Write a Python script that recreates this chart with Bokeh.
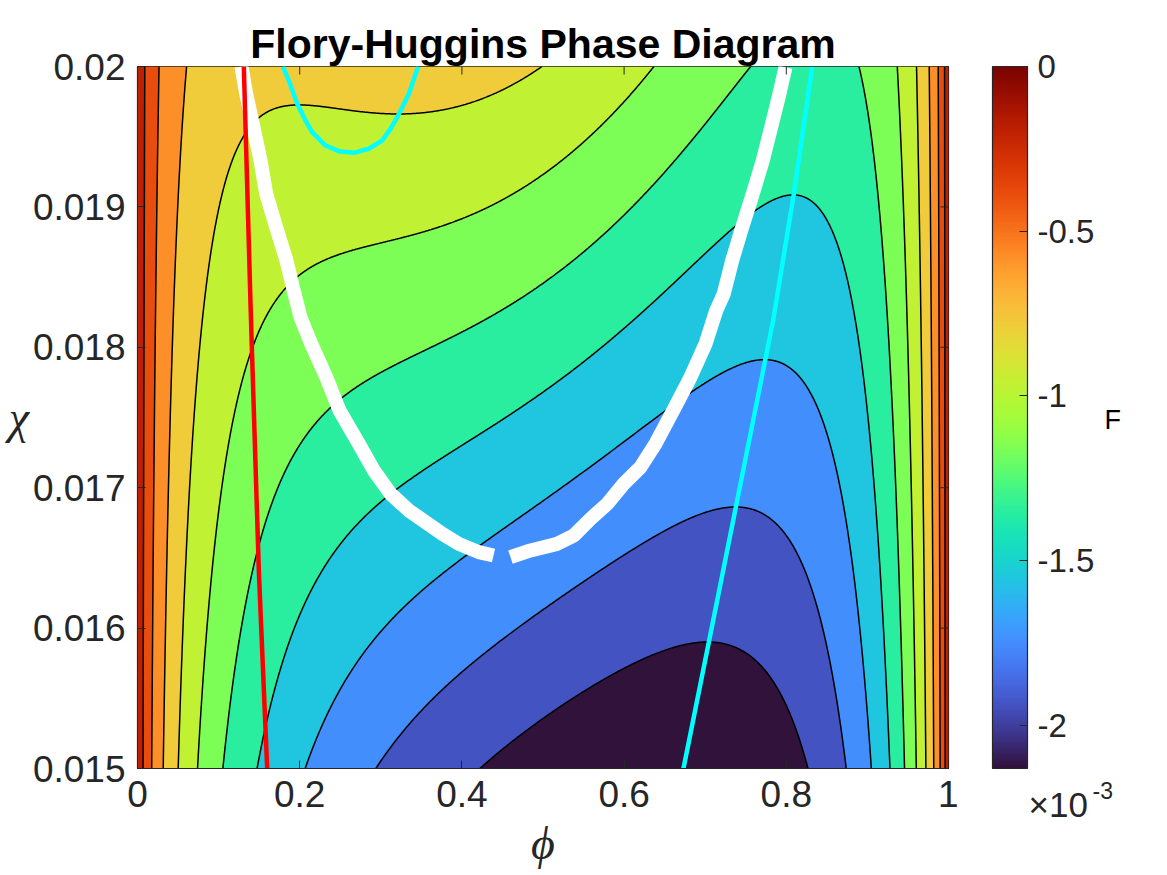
import numpy as np
from bokeh.plotting import figure
from bokeh.layouts import row
from bokeh.models import (LinearColorMapper, ColorBar, FixedTicker, Label, Range1d)
from bokeh.palettes import Turbo256
from bokeh.embed import file_html
from bokeh.resources import INLINE

# ---------------- data ----------------
# Flory-Huggins free energy F = phi/N_A ln(phi) + (1-phi)/N_B ln(1-phi) + chi phi (1-phi)
# chain lengths read from the critical point (~0.45, ~0.0165) and the colour-scale minimum
N_A = 150
N_B = 100
phi_limits = [0.0, 1.0]
chi_limits = [0.015, 0.02]
n_levels = 10

phi_ticks = [0, 0.2, 0.4, 0.6, 0.8, 1]
phi_tick_labels = ["0", "0.2", "0.4", "0.6", "0.8", "1"]
chi_ticks = [0.015, 0.016, 0.017, 0.018, 0.019, 0.02]
chi_tick_labels = ["0.015", "0.016", "0.017", "0.018", "0.019", "0.02"]
cbar_ticks = [-0.002, -0.0015, -0.001, -0.0005, 0.0]
cbar_tick_labels = ["-2", "-1.5", "-1", "-0.5", "0"]

# white curve (coexistence)
white_left_phi = [0.1282, 0.1340, 0.1430, 0.1517, 0.1587, 0.1710, 0.1837, 0.1936, 0.2010, 0.2142,
                  0.2327, 0.2491, 0.2729, 0.2914, 0.3120, 0.3345, 0.3757, 0.3962, 0.4208, 0.4390]
white_left_chi = [0.020000, 0.019806, 0.019568, 0.019330, 0.019093, 0.018855, 0.018618, 0.018381,
                  0.018214, 0.018025, 0.017787, 0.017550, 0.017313, 0.017123, 0.016957, 0.016838,
                  0.016672, 0.016600, 0.016541, 0.016517]
white_right_phi = [0.4599, 0.4846, 0.5175, 0.5380, 0.5586, 0.5792, 0.5996, 0.6202, 0.6387, 0.6605,
                   0.6819, 0.7004, 0.7136, 0.7229, 0.7333, 0.7456, 0.7587, 0.7710, 0.7814, 0.7916,
                   0.7990]
white_right_chi = [0.016505, 0.016553, 0.016600, 0.016660, 0.016778, 0.016885, 0.017028, 0.017146,
                   0.017313, 0.017550, 0.017787, 0.018025, 0.018262, 0.018381, 0.018618, 0.018855,
                   0.019093, 0.019330, 0.019568, 0.019806, 0.019995]

# red line
red_phi = [0.1311, 0.1397, 0.1496, 0.1599]
red_chi = [0.0200, 0.018241, 0.016410, 0.0150]

# cyan line (minimum of F)
cyan_phi = [0.6732, 0.7148, 0.7838, 0.8093, 0.8319]
cyan_chi = [0.0150, 0.016197, 0.018191, 0.019093, 0.019995]

# cyan U-shaped curve near the top
cyanu_phi = [0.1792, 0.1866, 0.1969, 0.2072, 0.2154, 0.2318, 0.2482, 0.2667, 0.2852, 0.3017,
             0.3120, 0.3202, 0.3346, 0.3461]
cyanu_chi = [0.02000, 0.019900, 0.019734, 0.019615, 0.019532, 0.019437, 0.019397, 0.019385,
             0.019414, 0.019473, 0.019556, 0.019639, 0.019805, 0.02000]

# ---------------- field ----------------
edge = np.geomspace(1e-6, 0.06, 260)
phi = np.unique(np.concatenate([np.linspace(phi_limits[0], phi_limits[1], 1201), edge, 1 - edge]))
chi = np.linspace(chi_limits[0], chi_limits[1], 301)
P, C = np.meshgrid(phi, chi)


def xlogx(v):
    safe = np.where(v > 0, v, 1.0)
    return np.where(v > 0, v * np.log(safe), 0.0)


F = xlogx(P) / N_A + xlogx(1 - P) / N_B + C * P * (1 - P)
fmin, fmax = float(F.min()), float(F.max())
line_levels = list(np.linspace(fmin, fmax, n_levels + 2)[1:-1])
fill_levels = [fmin - 1e-9] + line_levels + [fmax + 1e-9]
fill_colors = [Turbo256[min(int(256 * i / (n_levels + 1)), 255)] for i in range(n_levels + 1)]

# ---------------- main figure ----------------
FONT = "Liberation Sans"
TXT = "#262626"
FRAME_W, FRAME_H = 811, 702
TICK = 8
H = 875

p = figure(width=958, height=H, output_backend="svg", toolbar_location=None,
           x_range=Range1d(*phi_limits), y_range=Range1d(*chi_limits),
           min_border_left=137, min_border_right=10, min_border_top=66,
           min_border_bottom=H - 66 - FRAME_H)
p.background_fill_color = "white"
p.border_fill_color = "white"
p.grid.visible = False
p.outline_line_color = TXT
p.outline_line_width = 1.2

p.title.text = "Flory-Huggins Phase Diagram"
p.title.align = "center"
p.title.text_font = FONT
p.title.text_font_size = "41px"
p.title.text_font_style = "bold"
p.title.text_color = "black"
p.title.standoff = 0

p.contour(x=phi, y=chi, z=F, levels=fill_levels, fill_color=fill_colors)
p.contour(x=phi, y=chi, z=F, levels=line_levels, line_color="black", line_width=1.5)

p.line(white_left_phi, white_left_chi, line_color="white", line_width=14)
p.line(white_right_phi, white_right_chi, line_color="white", line_width=14)
p.line(red_phi, red_chi, line_color="#ff0000", line_width=4.5)
p.line(cyan_phi, cyan_chi, line_color="#00ffff", line_width=4.5)
p.line(cyanu_phi, cyanu_chi, line_color="#00ffff", line_width=4.5, line_join="round")

# box ticks on top and right (MATLAB "box on" style)
dx = TICK / FRAME_W * (phi_limits[1] - phi_limits[0])
dy = TICK / FRAME_H * (chi_limits[1] - chi_limits[0])
p.segment(x0=phi_ticks, y0=[chi_limits[1]] * len(phi_ticks), x1=phi_ticks,
          y1=[chi_limits[1] - dy] * len(phi_ticks), line_color=TXT, line_width=1)
p.segment(x0=[phi_limits[1]] * len(chi_ticks), y0=chi_ticks, x1=[phi_limits[1] - dx] * len(chi_ticks),
          y1=chi_ticks, line_color=TXT, line_width=1)


def style_axis(ax, ticks, labels):
    ax.ticker = FixedTicker(ticks=ticks)
    ax.major_label_overrides = {t: l for t, l in zip(ticks, labels)}
    ax.major_tick_in = TICK
    ax.major_tick_out = 0
    ax.minor_tick_line_color = None
    ax.major_tick_line_color = TXT
    ax.axis_line_color = TXT
    ax.major_label_text_font = FONT
    ax.major_label_text_color = TXT
    ax.major_label_text_font_size = "37px"
    ax.major_label_standoff = 12


style_axis(p.xaxis[0], phi_ticks, phi_tick_labels)
style_axis(p.yaxis[0], chi_ticks, chi_tick_labels)
p.xaxis[0].axis_label = "\u03d5"
p.yaxis[0].axis_label = "\u03c7"
for ax in (p.xaxis[0], p.yaxis[0]):
    ax.axis_label_text_font = "Liberation Serif"
    ax.axis_label_text_font_style = "italic"
    ax.axis_label_text_font_size = "46px"
    ax.axis_label_text_color = TXT
    ax.axis_label_standoff = 1
p.xaxis[0].axis_label_standoff = 8
p.yaxis[0].major_label_orientation = "horizontal"
p.yaxis[0].axis_label_orientation = "horizontal"

# ---------------- colour-bar panel ----------------
P2_W, P2_H, P2_TOP = 168, 790, 40   # frame of the side panel, in pixels
p2 = figure(width=34 + P2_W, height=H, output_backend="svg", toolbar_location=None,
            x_range=Range1d(0, P2_W), y_range=Range1d(0, P2_H),
            min_border_left=34, min_border_right=0, min_border_top=P2_TOP,
            min_border_bottom=H - P2_TOP - P2_H, x_axis_location=None, y_axis_location=None)
p2.frame_align = False
p2.grid.visible = False
p2.outline_line_color = None
p2.background_fill_color = "white"
p2.border_fill_color = "white"

mapper = LinearColorMapper(palette=Turbo256, low=fmin, high=0.0)
cb = ColorBar(color_mapper=mapper, ticker=FixedTicker(ticks=cbar_ticks),
              major_label_overrides={t: l for t, l in zip(cbar_ticks, cbar_tick_labels)},
              location=(0, P2_TOP + P2_H - 768), width=35, height=FRAME_H, margin=0, padding=0,
              label_standoff=10,
              major_label_text_font=FONT, major_label_text_font_size="33px",
              major_label_text_color=TXT,
              major_tick_line_color=TXT, major_tick_in=8, major_tick_out=0,
              minor_tick_line_color=None,
              bar_line_color=TXT, bar_line_width=1.2,
              background_fill_color=None, border_line_color=None)
p2.add_layout(cb, "center")

p2.add_layout(Label(x=112, y=411, text="F", text_font=FONT, text_font_size="27px",
                    text_color="black", text_baseline="middle"))
p2.add_layout(Label(x=36, y=26, text="\u00d710", text_font=FONT, text_font_size="35px",
                    text_color=TXT, text_baseline="alphabetic"))
p2.add_layout(Label(x=100, y=40, text="-3", text_font=FONT, text_font_size="23px",
                    text_color=TXT, text_baseline="alphabetic"))

layout = row(p, p2, spacing=0)
open("out.html", "w").write(file_html(layout, INLINE))
